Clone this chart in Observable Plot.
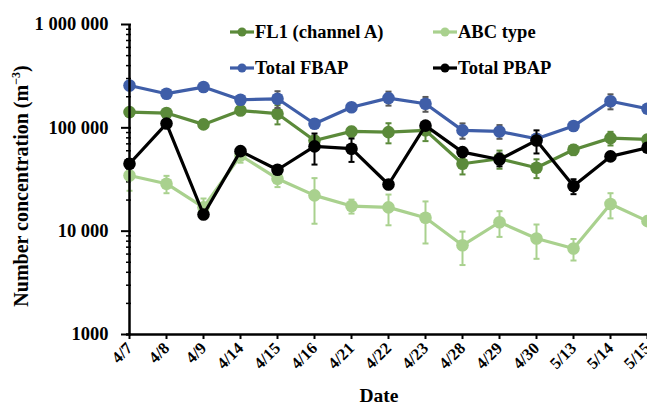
<!DOCTYPE html>
<html>
<head>
<meta charset="utf-8">
<script src="https://cdn.jsdelivr.net/npm/d3@7"></script>
<script src="https://cdn.jsdelivr.net/npm/@observablehq/plot@0.6"></script>
<style>
  html, body { margin: 0; padding: 0; background: #fff; overflow: hidden; }
  #wrap { position: relative; width: 647px; height: 406px; font-family: "Liberation Serif", "Times New Roman", serif; font-weight: bold; }
  #wrap svg.plot { position: absolute; left: 0; top: 0; }
  .ttl { position: absolute; color: #000; font-weight: bold; white-space: nowrap; }
  #legend { position: absolute; left: 0; top: 0; pointer-events: none; }
</style>
</head>
<body>
<div id="wrap"></div>
<script>
const dates = ["4/7","4/8","4/9","4/14","4/15","4/16","4/21","4/22","4/23","4/28","4/29","4/30","5/13","5/14","5/15"];

const fl1    = [142000,139000,108000,147000,137000,75500,92300,90800,94400,44900,50200,41100,61400,79500,77200];
const fl1Err = [8000,8000,5000,8000,29000,6000,10000,20000,20000,9500,10000,8500,7000,12000,5000];

const abc    = [34600,28800,17000,54000,32200,22200,17500,17000,13500,7300,12200,8500,6800,18300,12500];
const abcErr = [10000,5500,3700,8000,5500,10400,2700,5600,5900,2600,3400,3100,1600,5000,1000];

const fbap    = [257000,214000,248000,187000,191000,109600,158000,194000,171000,94400,92300,78400,104000,181000,153000];
const fbapErr = [8000,6000,8000,8000,35000,8000,10000,30000,28000,16000,14000,8000,5000,30000,5000];

const pbap    = [44900,110000,14500,59500,39300,66100,62800,28300,105000,58200,49400,75500,27300,52900,64200];
const pbapErr = [2000,4000,1000,3000,2000,22000,16000,1500,4000,2000,7000,19000,4500,3000,2000];

const seriesNames = ["FL1 (channel A)", "ABC type", "Total FBAP", "Total PBAP"];
const seriesColors = ["#5b8a3a", "#a9d18e", "#3f5ea8", "#000000"];
const errColors = ["#5b8a3a", "#a9d18e", "#595959", "#000000"];

const yTicks = [1000, 10000, 100000, 1000000];
const yTickLabels = ["1000", "10 000", "100 000", "1 000 000"];
const yMinorTicks = [2000,3000,4000,5000,6000,7000,8000,9000,
                     20000,30000,40000,50000,60000,70000,80000,90000,
                     200000,300000,400000,500000,600000,700000,800000,900000];

const values = [fl1, abc, fbap, pbap];
const errs = [fl1Err, abcErr, fbapErr, pbapErr];
const rows = [];
values.forEach((vals, si) => {
  vals.forEach((v, i) => rows.push({series: seriesNames[si], si, date: dates[i], v, e: errs[si][i]}));
});

const capSymbol = { draw(ctx, size) { const w = Math.sqrt(size / Math.PI); ctx.moveTo(-w, 0); ctx.lineTo(w, 0); } };

const marks = [];
seriesNames.forEach((name, si) => {
  const d = rows.filter(r => r.si === si);
  marks.push(
    Plot.ruleX(d, {x: "date", y1: r => r.v - r.e, y2: r => r.v + r.e, stroke: errColors[si], strokeWidth: 2}),
    Plot.dot(d, {x: "date", y: r => r.v + r.e, symbol: capSymbol, r: 3, stroke: errColors[si], strokeWidth: 2}),
    Plot.dot(d, {x: "date", y: r => r.v - r.e, symbol: capSymbol, r: 3, stroke: errColors[si], strokeWidth: 2}),
    Plot.line(d, {x: "date", y: "v", stroke: seriesColors[si], strokeWidth: 3.2}),
    Plot.dot(d, {x: "date", y: "v", r: 6.3, fill: seriesColors[si], stroke: "none"})
  );
});

const chart = Plot.plot({
  width: 647,
  height: 406,
  marginLeft: 126,
  marginRight: 0,
  marginTop: 24,
  marginBottom: 72,
  style: {fontFamily: "'Liberation Serif', 'Times New Roman', serif", fontWeight: "bold", background: "transparent", overflow: "visible"},
  x: {type: "point", domain: dates, range: [126, 650], padding: 0},
  y: {type: "log", domain: [1000, 1000000]},
  marks: [
    Plot.axisY({ticks: yMinorTicks, tickSize: -5, text: null, strokeWidth: 1.5, label: null}),
    Plot.axisY({ticks: yTicks, tickSize: 5, text: null, strokeWidth: 2, label: null}),
    Plot.axisY({ticks: yTicks, tickSize: -5, text: null, strokeWidth: 2, label: null}),
    Plot.axisY({ticks: yTicks, tickSize: 0, tickPadding: 18, tickFormat: v => yTickLabels[yTicks.indexOf(v)], fontSize: 18.5, label: null}),
    Plot.axisX({tickRotate: -45, tickSize: 5, tickPadding: 6, fontSize: 16.5, strokeWidth: 2, label: null}),
    ...marks,
    Plot.ruleX([dates[0]], {stroke: "#000", strokeWidth: 2.5}),
    Plot.ruleY([1000], {stroke: "#000", strokeWidth: 2.5})
  ]
});

const wrap = document.getElementById("wrap");
wrap.appendChild(chart);

// Axis titles
const yt = document.createElement("div");
yt.className = "ttl";
yt.style.fontSize = "20px";
yt.innerHTML = "Number concentration (m<sup style='font-size:12px'>\u22123</sup>)";
yt.style.left = "21px";
yt.style.top = "186px";
yt.style.transform = "translate(-50%, -50%) rotate(-90deg)";
wrap.appendChild(yt);

const xt = document.createElement("div");
xt.className = "ttl";
xt.style.fontSize = "19.5px";
xt.textContent = "Date";
xt.style.left = "379px";
xt.style.top = "396px";
xt.style.transform = "translate(-50%, -50%)";
wrap.appendChild(xt);

// Legend (2 x 2)
const legendPos = [[230, 32], [433, 32], [230, 68], [433, 68]];
const ns = "http://www.w3.org/2000/svg";
const lg = document.createElementNS(ns, "svg");
lg.setAttribute("id", "legend");
lg.setAttribute("width", 647);
lg.setAttribute("height", 406);
seriesNames.forEach((name, i) => {
  const [x, y] = legendPos[i];
  const line = document.createElementNS(ns, "line");
  line.setAttribute("x1", x); line.setAttribute("x2", x + 24);
  line.setAttribute("y1", y); line.setAttribute("y2", y);
  line.setAttribute("stroke", seriesColors[i]); line.setAttribute("stroke-width", 3.2);
  lg.appendChild(line);
  const c = document.createElementNS(ns, "circle");
  c.setAttribute("cx", x + 12); c.setAttribute("cy", y); c.setAttribute("r", 4.5);
  c.setAttribute("fill", seriesColors[i]);
  lg.appendChild(c);
  const t = document.createElementNS(ns, "text");
  t.setAttribute("x", x + 25); t.setAttribute("y", y);
  t.setAttribute("dy", "0.35em");
  t.setAttribute("font-size", 18.5);
  t.setAttribute("font-weight", "bold");
  t.setAttribute("font-family", "'Liberation Serif', 'Times New Roman', serif");
  t.textContent = name;
  lg.appendChild(t);
});
wrap.appendChild(lg);
</script>
</body>
</html>
